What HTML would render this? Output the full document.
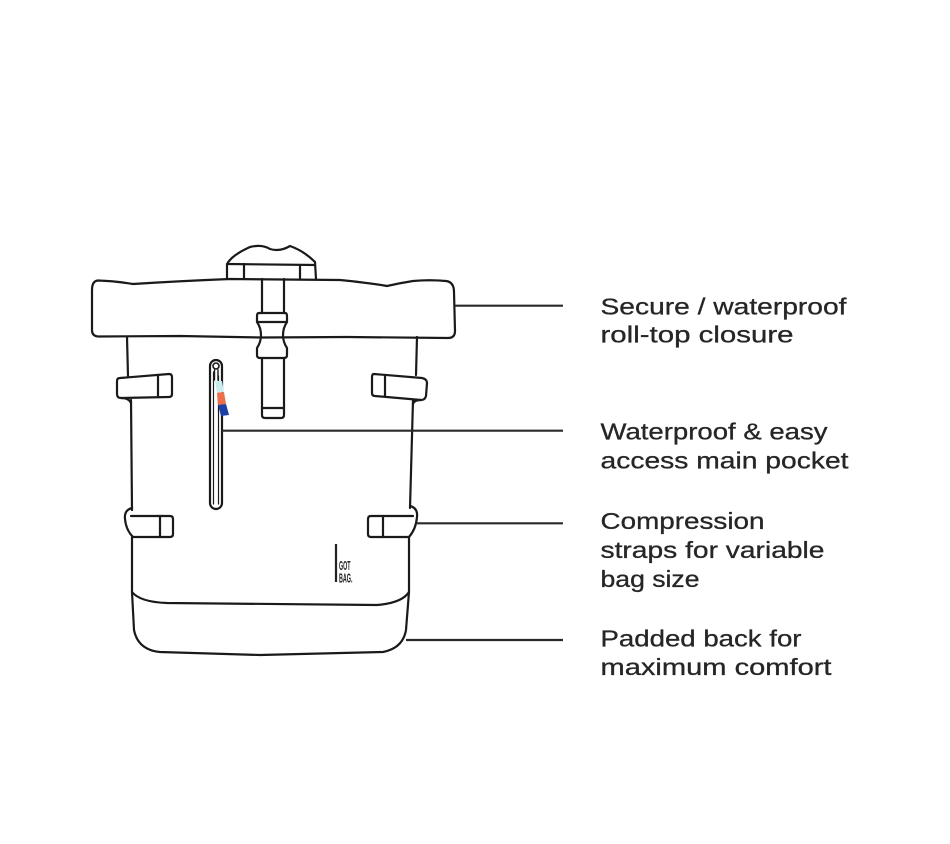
<!DOCTYPE html>
<html>
<head>
<meta charset="utf-8">
<style>
  html,body{margin:0;padding:0;background:#fff;}
  svg{display:block;}
  .s{fill:none;stroke:#1a1a1a;stroke-width:2.2;stroke-linejoin:round;stroke-linecap:round;}
  .c{fill:none;stroke:#2a2a2a;stroke-width:2.2;}
  .t{font-family:"Liberation Sans",sans-serif;font-size:23px;fill:#262626;stroke:#262626;stroke-width:0.3;}
  .l{font-family:"Liberation Sans",sans-serif;font-size:12.5px;font-weight:bold;fill:#222;}
</style>
</head>
<body>
<svg width="950" height="844" viewBox="0 0 950 844" xmlns="http://www.w3.org/2000/svg">
  <rect width="950" height="844" fill="#fff"/>

  <!-- top handle -->
  <path class="s" d="M227,279 L227,264 Q232,255 250,247 Q262,244 270,249 Q280,252 290,246 Q304,251 315,262 L316,279"/>
  <path class="s" d="M228,264 L315,265"/>
  <path class="s" d="M244,264 L244,279 M300,265 L300,279"/>

  <!-- roll top -->
  <path class="s" d="M98,280.5 Q92,281 92,290 L92,330 Q92,336.5 99,336.5 L180,336 L262,337.5 L347,337 L448,338 Q455,338 455,331 L454,292 Q454,282 446,281 Q430,279.5 413,281 Q400,283 387,286 Q370,283 340,280 L230,279 Q180,281 133,284 Q115,281 98,280.5 Z"/>

  <!-- strap + buckle -->
  <path class="s" d="M262,279 L262,313 M284,279 L284,313"/>
  <path class="s" d="M259,313 L285,313 Q287,313 287,316 L287,322 Q283,328 283,335 Q283,342 287,348 L287,355 Q287,358 284,358 L260,358 Q257,358 257,355 L257,348 Q261,342 261,335 Q261,328 257,322 L257,316 Q257,313 259,313 Z"/>
  <path class="s" d="M258,322 L286,322"/>
  <path class="s" d="M262,358 L262,415 Q262,418 265,418 L281,418 Q284,418 284,415 L284,358"/>
  <path class="s" d="M262,408 L284,408"/>

  <!-- body sides -->
  <path class="s" d="M127,337 L128,376"/>
  <path class="s" d="M131,400 L132,510"/>
  <path class="s" d="M132,537 L132,592"/>
  <path class="s" d="M417,337 L416,375"/>
  <path class="s" d="M413,400 L410,508"/>
  <path class="s" d="M409,537 L409,592"/>

  <!-- upper left strap -->
  <path class="s" d="M120,378 L169,374 Q172,374 172,377 L172,394 Q172,397 169,397 L121,398 Q117,398 117,394 L117,381 Q117,378 120,378 Z"/>
  <path class="s" d="M158,375 L158,397"/>
  <path class="s" d="M121,398 Q129,398 131,403"/>

  <!-- upper right strap -->
  <path class="s" d="M374,374 L422,378 Q427,379 427,383 L426,396 Q425,400 421,400 L375,396 Q372,396 372,393 L372,377 Q372,374 374,374 Z"/>
  <path class="s" d="M385,375 L385,396"/>
  <path class="s" d="M421,400 Q414,400 413,404"/>

  <!-- lower left strap -->
  <path class="s" d="M132,508 Q124,510 125,519 Q126,530 133,537 L170,537 Q173,537 173,534 L173,519 Q173,516 170,516 L131,516"/>
  <path class="s" d="M160,516 L160,537"/>

  <!-- lower right strap -->
  <path class="s" d="M410,506 Q418,508 417,517 Q416,529 409,537 L371,537 Q368,537 368,534 L368,519 Q368,516 371,516 L413,516"/>
  <path class="s" d="M383,516 L383,537"/>

  <!-- zipper -->
  <rect class="s" x="210" y="360" width="12" height="149" rx="6"/>
  <path class="s" d="M213.5,372 L213.5,504 M218.5,376 L218.5,504" style="stroke-width:1.2"/>
  <circle class="s" cx="216" cy="366" r="3" style="stroke-width:1.6"/>
  <path class="s" d="M214.5,370 L214.5,380 M218,370 L218,380" style="stroke-width:1.4"/>
  <polygon points="215,381 222,381 224,392 217,393" fill="#c9ecef"/>
  <polygon points="217,393 224,392 226,404 218,405" fill="#ec6f4a"/>
  <polygon points="218,405 226,404 229,415 221,416" fill="#1c3fa3"/>

  <!-- logo -->
  <path d="M336,544 L336,582" stroke="#222" stroke-width="2.2"/>
  <text class="l" x="339" y="570" textLength="11.5" lengthAdjust="spacingAndGlyphs">GOT</text>
  <text class="l" x="339" y="582.5" textLength="13.5" lengthAdjust="spacingAndGlyphs">BAG.</text>

  <!-- bottom section -->
  <path class="s" d="M132,592 Q140,602 167,603 L377,605 Q402,603 409,592"/>
  <path class="s" d="M132,592 L134,630 Q138,650 160,652 L260,655 L383,652 Q403,648 406,630 L409,592"/>

  <!-- connectors -->
  <path class="c" d="M455,305.7 L563,305.7"/>
  <path class="c" d="M222,430.7 L563,430.7"/>
  <path class="c" d="M417,523.3 L563,523.3"/>
  <path class="c" d="M406,640 L563,640"/>

  <!-- labels -->
  <text class="t" x="600.5" y="314.5" textLength="246" lengthAdjust="spacingAndGlyphs">Secure / waterproof</text>
  <text class="t" x="600.5" y="342.5" textLength="193" lengthAdjust="spacingAndGlyphs">roll-top closure</text>

  <text class="t" x="600.5" y="439.5" textLength="227" lengthAdjust="spacingAndGlyphs">Waterproof &amp; easy</text>
  <text class="t" x="600.5" y="468.5" textLength="248" lengthAdjust="spacingAndGlyphs">access main pocket</text>

  <text class="t" x="600.5" y="529" textLength="164" lengthAdjust="spacingAndGlyphs">Compression</text>
  <text class="t" x="600.5" y="558" textLength="224" lengthAdjust="spacingAndGlyphs">straps for variable</text>
  <text class="t" x="600.5" y="587" textLength="99" lengthAdjust="spacingAndGlyphs">bag size</text>

  <text class="t" x="600.5" y="646.5" textLength="201" lengthAdjust="spacingAndGlyphs">Padded back for</text>
  <text class="t" x="600.5" y="675" textLength="231" lengthAdjust="spacingAndGlyphs">maximum comfort</text>
</svg>
</body>
</html>
